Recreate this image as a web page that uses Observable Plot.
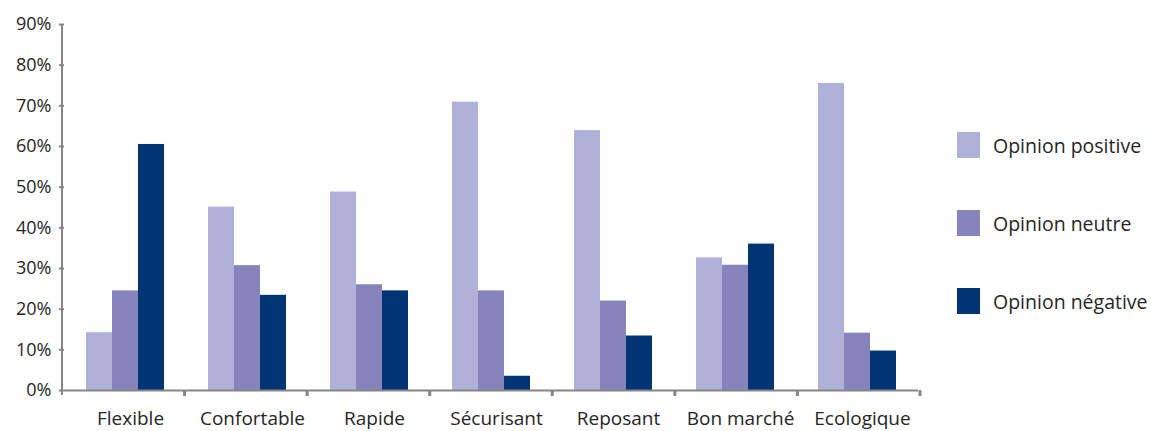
<!DOCTYPE html>
<html>
<head>
<meta charset="utf-8">
<script src="https://cdn.jsdelivr.net/npm/d3@7"></script>
<script src="https://cdn.jsdelivr.net/npm/@observablehq/plot@0.6"></script>
<style>
  html, body { margin: 0; padding: 0; background: #fff; }
  #wrap { position: relative; width: 1151px; height: 431px; overflow: hidden; font-family: "Open Sans", sans-serif; color: #262626; }
  #chart { position: absolute; left: 0; top: 0; }
  #legend { position: absolute; left: 957px; top: 132px; }
  .item { display: flex; align-items: center; height: 26px; margin-bottom: 52px; font-size: 19.5px; white-space: nowrap; }
  .sw { width: 23px; height: 26px; margin-right: 13px; flex: none; }
</style>
</head>
<body>
<div id="wrap"><div id="chart"></div><div id="legend"></div></div>
<script>
const categories = ["Flexible", "Confortable", "Rapide", "Sécurisant", "Reposant", "Bon marché", "Ecologique"];
const series = ["Opinion positive", "Opinion neutre", "Opinion négative"];
const positive = [0.142, 0.451, 0.488, 0.709, 0.639, 0.326, 0.755];
const neutral  = [0.245, 0.307, 0.260, 0.245, 0.220, 0.308, 0.141];
const negative = [0.605, 0.234, 0.245, 0.035, 0.134, 0.360, 0.097];
const colors = ["#AFB1D9", "#8784BC", "#003473"];
const yTicks = [0, 0.1, 0.2, 0.3, 0.4, 0.5, 0.6, 0.7, 0.8, 0.9];

const values = [positive, neutral, negative];
const data = categories.flatMap((c, i) => series.map((s, j) => ({category: c, series: s, value: values[j][i]})));

const axisGray = "#868686";

const plot = Plot.plot({
  width: 940,
  height: 431,
  marginLeft: 62,
  marginRight: 20,
  marginTop: 24,
  marginBottom: 41,
  style: {fontFamily: "'Open Sans', sans-serif", fontSize: "18px", color: "#262626", background: "#fff", overflow: "visible"},
  fx: {domain: categories, paddingInner: 0, paddingOuter: 0, label: null, axis: null},
  x: {domain: series, paddingInner: 0, paddingOuter: 0.77, axis: null},
  y: {domain: [0, 0.9], axis: null},
  color: {domain: series, range: colors},
  marks: [
    Plot.barY(data, {fx: "category", x: "series", y: "value", fill: "series"}),
    Plot.ruleY([0], {stroke: axisGray, strokeWidth: 2}),
    Plot.axisY({ticks: yTicks, tickFormat: d3.format(".0%"), tickSize: 5, tickPadding: 8, stroke: axisGray, strokeWidth: 2, fill: "#262626", label: null, fontSize: 18}),
    Plot.axisFx({anchor: "bottom", tickSize: 0, tickPadding: 21, dx: 5, label: null, fill: "#262626", fontSize: 19})
  ]
});

// y-axis line and group boundary ticks derived from the plot's scales
const fxS = plot.scale("fx");
const yS = plot.scale("y");
const fx = d3.scaleBand().domain(fxS.domain).range(fxS.range).paddingInner(fxS.paddingInner ?? 0).paddingOuter(fxS.paddingOuter ?? 0);
const y = d3.scaleLinear().domain(yS.domain).range(yS.range);
const svg = d3.select(plot);
const g = svg.append("g").attr("stroke", axisGray).attr("stroke-width", 2);
const x0 = fx.range()[0];
g.append("line").attr("x1", x0).attr("x2", x0).attr("y1", y(0.9)).attr("y2", y(0) + 5);
const bounds = fx.domain().map(c => fx(c)).concat([fx(fx.domain()[fx.domain().length - 1]) + fx.bandwidth()]);
g.selectAll("line.b").data(bounds.slice(1)).join("line").attr("class", "b")
  .attr("x1", d => d).attr("x2", d => d).attr("y1", y(0)).attr("y2", y(0) + 6).attr("stroke-width", 3);

document.getElementById("chart").appendChild(plot);

const colorScale = plot.scale("color");
const legend = d3.select("#legend");
colorScale.domain.forEach((s, i) => {
  const item = legend.append("div").attr("class", "item");
  item.append("div").attr("class", "sw").style("background", colorScale.range[i]);
  item.append("span").text(s);
});
</script>
</body>
</html>
